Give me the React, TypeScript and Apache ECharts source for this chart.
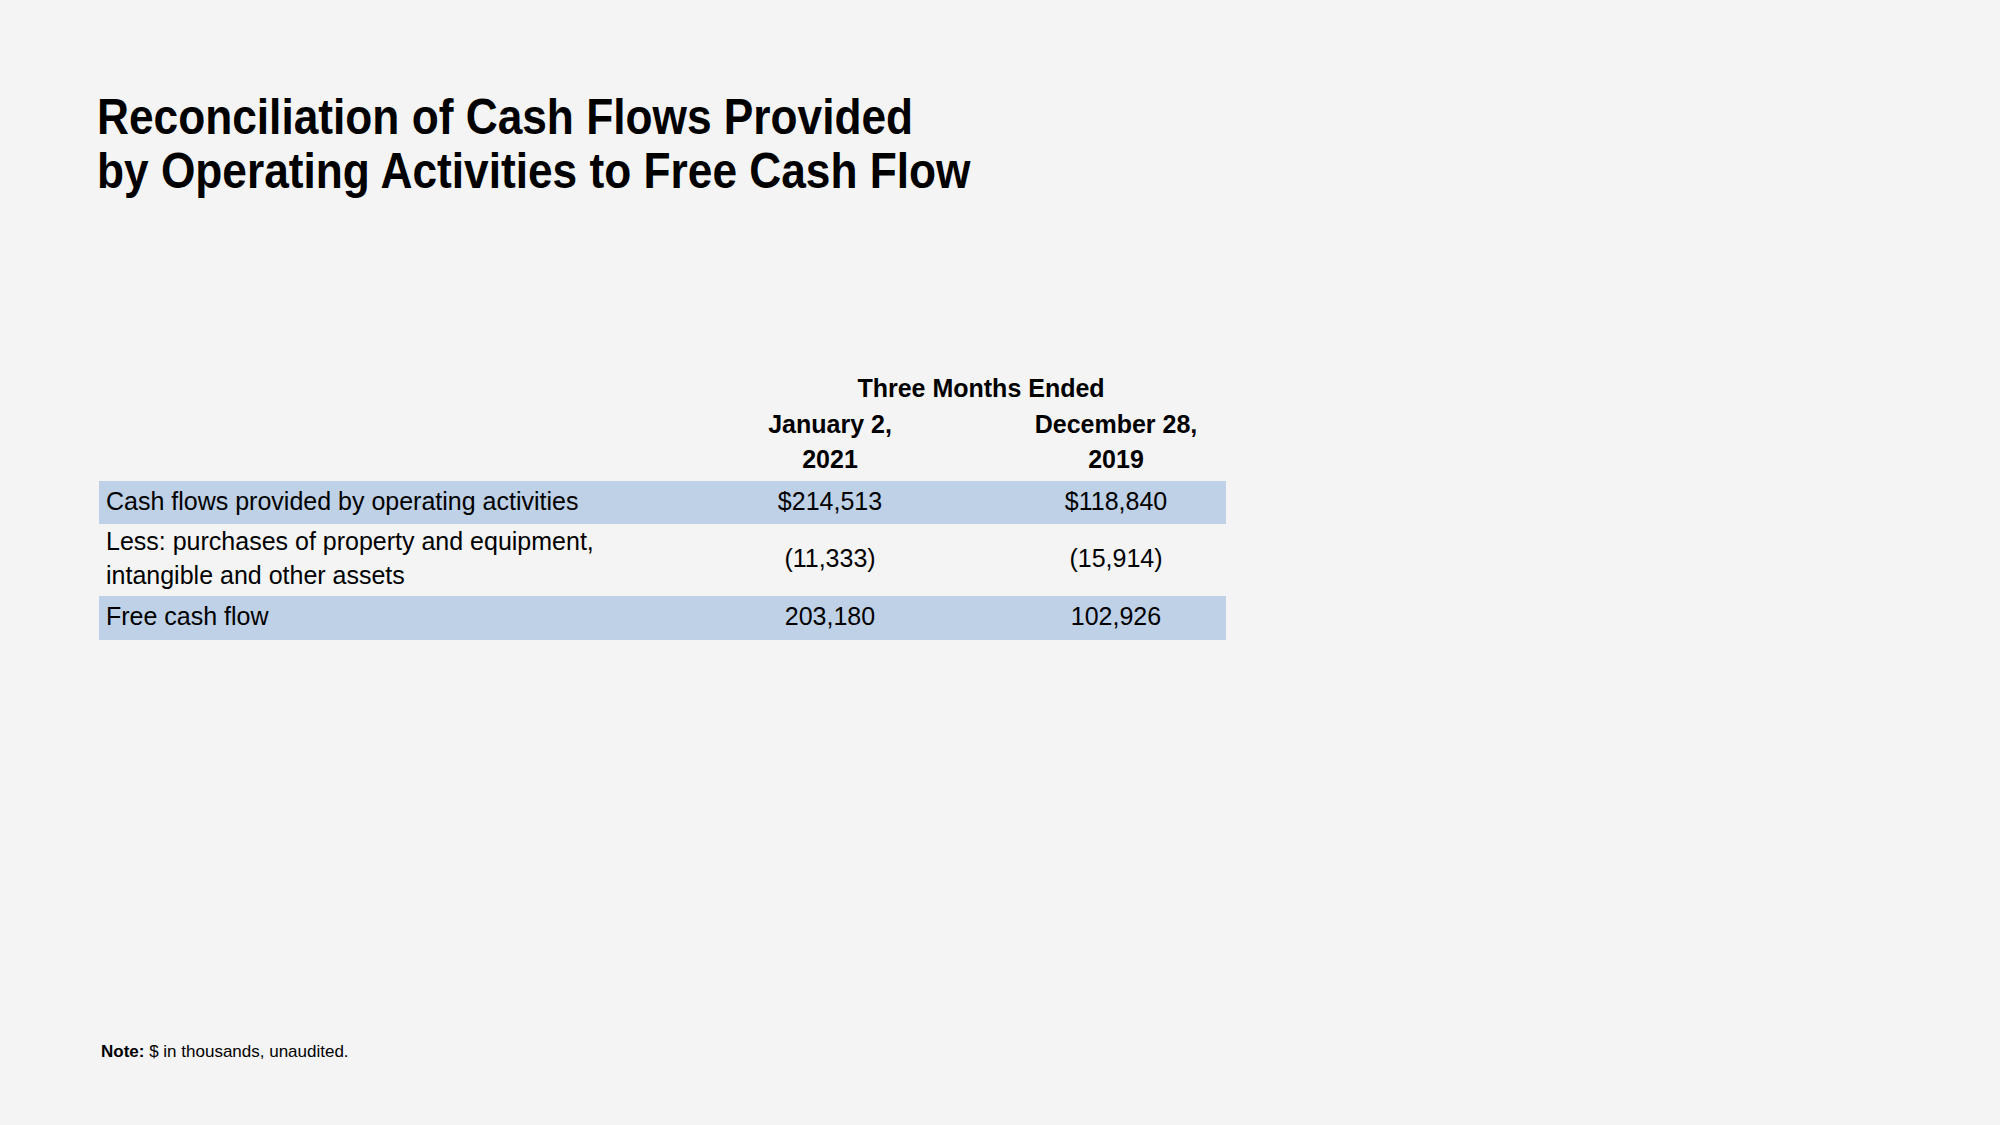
import React, { useEffect, useRef } from "react";
import * as echarts from "echarts";

const titleLines = ["Reconciliation of Cash Flows Provided", "by Operating Activities to Free Cash Flow"];
const groupHeader = "Three Months Ended";
const columnHeaders = [["January 2,", "2021"], ["December 28,", "2019"]];
const rowLabels = [
  ["Cash flows provided by operating activities"],
  ["Less: purchases of property and equipment,", "intangible and other assets"],
  ["Free cash flow"],
];
const valuesJan2021 = ["$214,513", "(11,333)", "203,180"];
const valuesDec2019 = ["$118,840", "(15,914)", "102,926"];
const rowHighlighted = [true, false, true];
const noteBold = "Note:";
const noteText = " $ in thousands, unaudited.";

const FONT = "'Liberation Sans', Arial, Helvetica, sans-serif";
const BG = "#f4f4f4";
const BAND = "#bed1e6";

export default function App() {
  const ref = useRef<HTMLDivElement>(null);
  useEffect(() => {
    document.body.style.margin = "0";
    document.body.style.background = BG;
    const chart = echarts.init(ref.current!, null, { renderer: "svg" });

    const tableLeft = 99;
    const tableRight = 1226;
    const labelX = 106;
    const colCenters = [830, 1116];
    const rowTops = [481, 524, 596];
    const rowHeights = [43, 72, 44];
    const bodySize = 25;

    const elements: any[] = [];
    titleLines.forEach((t, i) => {
      elements.push({
        type: "text",
        x: 97,
        y: 117 + i * 54,
        scaleX: 0.885,
        style: { text: t, fill: "#000", font: `bold 50px ${FONT}`, verticalAlign: "middle", align: "left" },
      });
    });
    elements.push({
      type: "text",
      x: 981,
      y: 388,
      style: { text: groupHeader, fill: "#000", font: `bold ${bodySize}px ${FONT}`, align: "center", verticalAlign: "middle" },
    });
    columnHeaders.forEach((lines, c) => {
      lines.forEach((l, j) => {
        elements.push({
          type: "text",
          x: colCenters[c],
          y: 424 + j * 35,
          style: { text: l, fill: "#000", font: `bold ${bodySize}px ${FONT}`, align: "center", verticalAlign: "middle" },
        });
      });
    });
    rowLabels.forEach((lines, r) => {
      const top = rowTops[r];
      const h = rowHeights[r];
      if (rowHighlighted[r]) {
        elements.push({
          type: "rect",
          shape: { x: tableLeft, y: top, width: tableRight - tableLeft, height: h },
          style: { fill: BAND },
        });
      }
      const mid = top + h / 2 - 2;
      const lh = 34;
      lines.forEach((l, j) => {
        elements.push({
          type: "text",
          x: labelX,
          y: mid - ((lines.length - 1) * lh) / 2 + j * lh,
          style: { text: l, fill: "#000", font: `${bodySize}px ${FONT}`, align: "left", verticalAlign: "middle" },
        });
      });
      [valuesJan2021[r], valuesDec2019[r]].forEach((v, c) => {
        elements.push({
          type: "text",
          x: colCenters[c],
          y: mid,
          style: { text: v, fill: "#000", font: `${bodySize}px ${FONT}`, align: "center", verticalAlign: "middle" },
        });
      });
    });
    elements.push({
      type: "text",
      x: 101,
      y: 1051,
      style: {
        text: `{b|${noteBold}}{n|${noteText}}`,
        verticalAlign: "middle",
        align: "left",
        rich: {
          b: { fontFamily: FONT, fontWeight: "bold", fontSize: 17, fill: "#000", color: "#000" },
          n: { fontFamily: FONT, fontSize: 17, fill: "#000", color: "#000" },
        },
      },
    });

    chart.setOption({
      animation: false,
      backgroundColor: BG,
      graphic: { elements },
    });
    return () => chart.dispose();
  }, []);
  return <div ref={ref} style={{ width: 2000, height: 1125 }} />;
}
